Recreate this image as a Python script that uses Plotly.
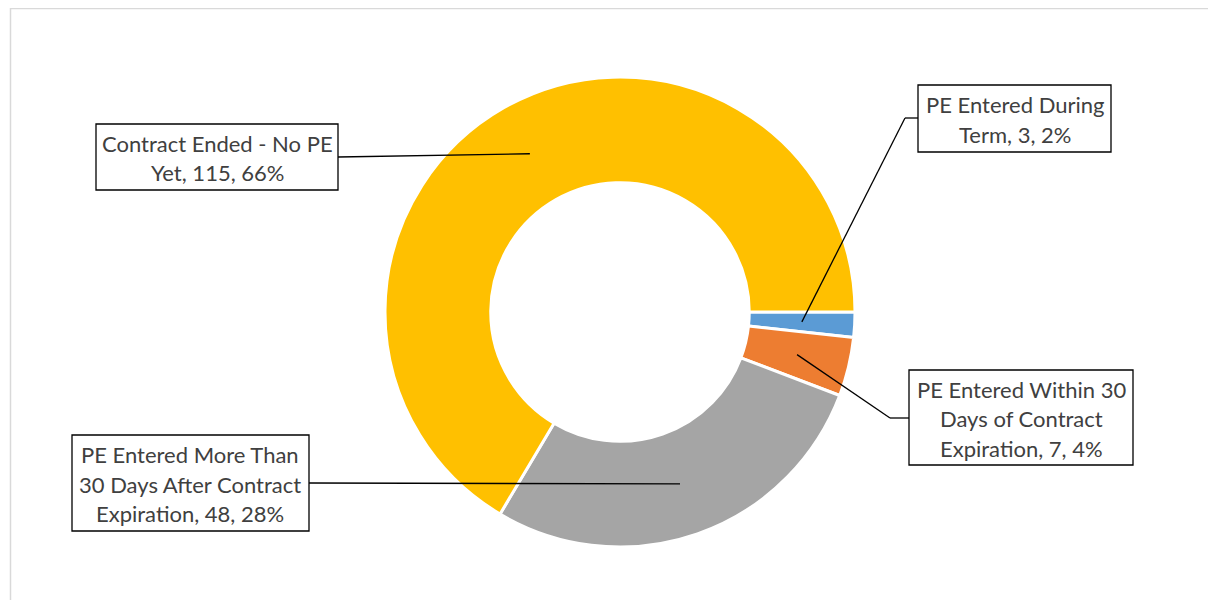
import math
import plotly.graph_objects as go

# ---- data ----
categories = [
    "PE Entered During Term",
    "PE Entered Within 30 Days of Contract Expiration",
    "PE Entered More Than 30 Days After Contract Expiration",
    "Contract Ended - No PE Yet",
]
values = [3, 7, 48, 115]
colors = ["#5B9BD5", "#ED7D31", "#A5A5A5", "#FFC000"]
# wrapped label text (line breaks as shown on the chart)
label_lines = [
    ["PE Entered During", "Term"],
    ["PE Entered Within 30", "Days of Contract", "Expiration"],
    ["PE Entered More Than", "30 Days After Contract", "Expiration"],
    ["Contract Ended - No PE", "Yet"],
]

# ---- layout geometry (page pixels) ----
OFF = 8  # page body margin
W, H = 1216 - 2 * OFF, 608 - 2 * OFF  # figure fits the window without scrollbars
CX, CY, R = 620, 312, 235
HOLE = 0.55
PLOT_TOP, PLOT_BOT = CY - R, CY + R  # page y of plot area
M_T = PLOT_TOP - OFF
M_B = H - (PLOT_BOT - OFF)
# label boxes (x0, y0, x1, y1) and elbow points for leader lines
boxes = [
    (918, 85, 1111, 152),
    (909, 370, 1133, 465),
    (72, 435, 309, 531),
    (96, 124, 338, 190),
]
leader_start = [
    [(918, 118), (905, 118)],
    [(909, 418), (890, 418)],
    [(309, 483)],
    [(338, 157)],
]
LINE_SP = 29.5

PH = H - M_T - M_B


def X(px):
    return (px - OFF) / W


def Y(py):
    return (PLOT_BOT - py) / PH


fig = go.Figure(
    go.Pie(
        labels=categories,
        values=values,
        hole=HOLE,
        sort=False,
        direction="clockwise",
        rotation=90,
        marker=dict(colors=colors, line=dict(color="white", width=3)),
        textinfo="none",
        hoverinfo="label+value+percent",
        domain=dict(x=[X(CX - R), X(CX + R)], y=[0, 1]),
        showlegend=False,
    )
)

shapes = []
annotations = []
total = sum(values)
cum = 0
rm = R * (1 + HOLE) / 2
for i, v in enumerate(values):
    mid = (cum + v / 2) / total * 2 * math.pi
    cum += v
    ex = CX + rm * math.cos(mid)
    ey = CY + rm * math.sin(mid)
    pts = leader_start[i] + [(ex, ey)]
    for (x0, y0), (x1, y1) in zip(pts[:-1], pts[1:]):
        shapes.append(dict(type="line", xref="paper", yref="paper",
                           x0=X(x0), y0=Y(y0), x1=X(x1), y1=Y(y1),
                           line=dict(color="black", width=1.3), layer="above"))
    bx0, by0, bx1, by1 = boxes[i]
    shapes.append(dict(type="rect", xref="paper", yref="paper",
                       x0=X(bx0), y0=Y(by0), x1=X(bx1), y1=Y(by1),
                       fillcolor="white", line=dict(color="black", width=1.3),
                       layer="above"))
    pct = round(v / total * 100)
    lines = list(label_lines[i])
    lines[-1] = f"{lines[-1]}, {v}, {pct}%"
    n = len(lines)
    cyb = (by0 + by1) / 2
    for k, t in enumerate(lines):
        ly = cyb + (k - (n - 1) / 2) * LINE_SP
        annotations.append(dict(xref="paper", yref="paper",
                                x=X((bx0 + bx1) / 2), y=Y(ly + 1),
                                text=t, showarrow=False,
                                xanchor="center", yanchor="middle",
                                font=dict(family="Lato", size=22, color="#404040")))

# chart border (extends past the page edges)
shapes.append(dict(type="rect", xref="paper", yref="paper",
                   x0=X(10.5), y0=Y(8.5), x1=X(1260), y1=Y(660),
                   line=dict(color="#D9D9D9", width=1.5), layer="below"))

fig.update_layout(
    width=W, height=H,
    margin=dict(l=0, r=0, t=M_T, b=M_B),
    paper_bgcolor="white", plot_bgcolor="white",
    shapes=shapes, annotations=annotations,
)
fig.write_html("out.html")
